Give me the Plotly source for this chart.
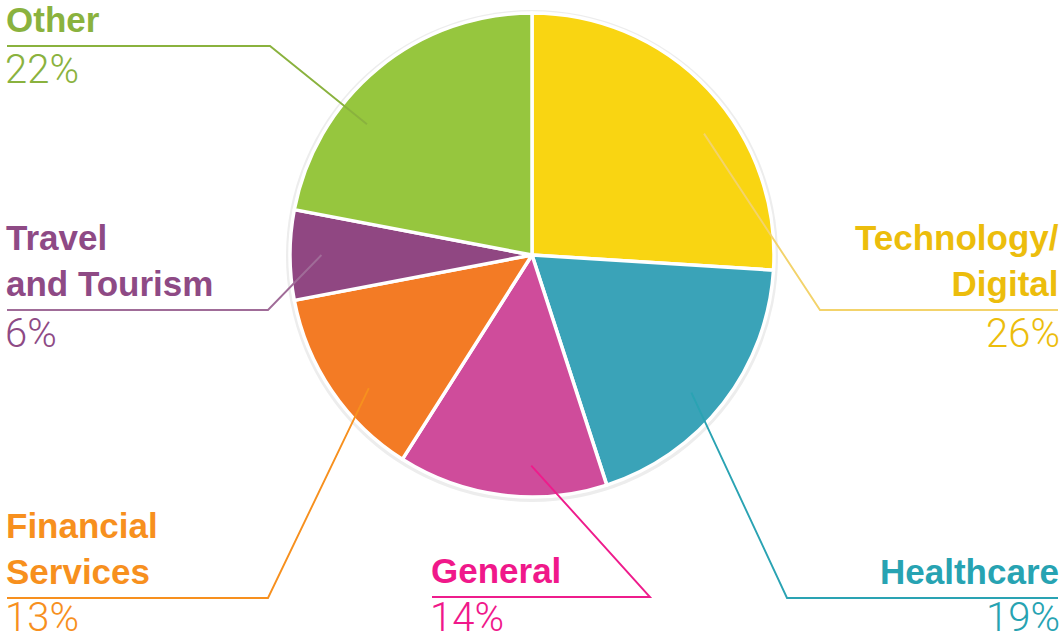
import math
import plotly.graph_objects as go

# ---- data ----
categories = ["Technology/Digital", "Healthcare", "General", "Financial Services",
              "Travel and Tourism", "Other"]
shares = [26, 19, 14, 13, 6, 22]
label_lines = [["Technology/", "Digital"], ["Healthcare"], ["General"],
               ["Financial", "Services"], ["Travel", "and Tourism"], ["Other"]]
pct_labels = [f"{v}%" for v in shares]

# ---- styles ----
slice_colors = ["#F9D512", "#3AA3B8", "#CF4C9B", "#F37B25", "#904782", "#96C63E"]
text_colors = ["#ECBD0C", "#27A3B2", "#F0188A", "#F7901E", "#8E4A85", "#8AB23E"]
line_colors = ["#F3D36B", "#2AA3B3", "#EE1C8C", "#F7901E", "#A06C98", "#8AB23E"]

W, H = 1060, 642
CX, CY, R = 532, 255, 242
PCT_SIZE = 40

def px(x):
    return x / W

def py(y):
    return 1 - y / H

# label layout: (elbow x, line y, end x, side)
label_layout = [
    (820, 310, 1058, "right"),
    (787, 598, 1058, "right"),
    (650, 597, 432, "left"),
    (268, 598, 7, "left"),
    (268, 310, 7, "left"),
    (270, 46, 7, "left"),
]
angle_offsets = [8, 3, -7, -5, 0, -12]

fig = go.Figure()
fig.add_trace(go.Pie(
    labels=categories, values=shares, sort=False, direction="clockwise", rotation=0,
    marker=dict(colors=slice_colors, line=dict(color="white", width=3.5)),
    textinfo="none", hoverinfo="label+percent", showlegend=False,
    domain=dict(x=[px(CX - R), px(CX + R)], y=[py(CY + R), py(CY - R)]),
))

shapes = [dict(type="circle", xref="paper", yref="paper", layer="below",
               x0=px(CX - R - 4), x1=px(CX + R + 4), y0=py(CY + R + 5), y1=py(CY - R - 3),
               fillcolor="#EDEDED", line=dict(width=0))]
annotations = []

total = sum(shares)
cum = 0
for i, v in enumerate(shares):
    mid = (cum + v / 2) / total * 360
    cum += v
    th = math.radians(mid + angle_offsets[i])
    sx = CX + 0.87 * R * math.sin(th)
    sy = CY - 0.87 * R * math.cos(th)
    ex, ly, endx, side = label_layout[i]
    shapes.append(dict(
        type="path", xref="paper", yref="paper", layer="above",
        path=f"M {px(sx)},{py(sy)} L {px(ex)},{py(ly)} L {px(endx)},{py(ly)}",
        line=dict(color=line_colors[i], width=1.9)))
    anchor = "right" if side == "right" else "left"
    shift = 3 if side == "right" else -3
    annotations.append(dict(
        x=px(endx), y=py(ly - 5), xref="paper", yref="paper",
        xanchor=anchor, yanchor="bottom", align=anchor, xshift=shift,
        text="<br>".join(f"<b>{t}</b>" for t in label_lines[i]),
        showarrow=False,
        font=dict(family="Liberation Sans, Arial", size=35, color=text_colors[i])))
    # keep the percentage box inside the page at the bottom edge
    if ly - 1 + PCT_SIZE * 1.2 > H:
        pct_y, pct_anchor = 0, "bottom"
    else:
        pct_y, pct_anchor = py(ly - 1), "top"
    annotations.append(dict(
        x=px(endx), y=pct_y, xref="paper", yref="paper",
        xanchor=anchor, yanchor=pct_anchor, align=anchor, xshift=shift, borderpad=0,
        text=pct_labels[i], showarrow=False,
        font=dict(family="Roboto", size=PCT_SIZE, weight=300, color=text_colors[i])))

fig.update_layout(
    width=W, height=H, margin=dict(l=0, r=0, t=0, b=0),
    paper_bgcolor="white", plot_bgcolor="white",
    shapes=shapes, annotations=annotations,
)
fig.write_html("out.html", config={"displayModeBar": False},
               post_script="document.body.style.margin='0';document.body.style.overflow='hidden';")
